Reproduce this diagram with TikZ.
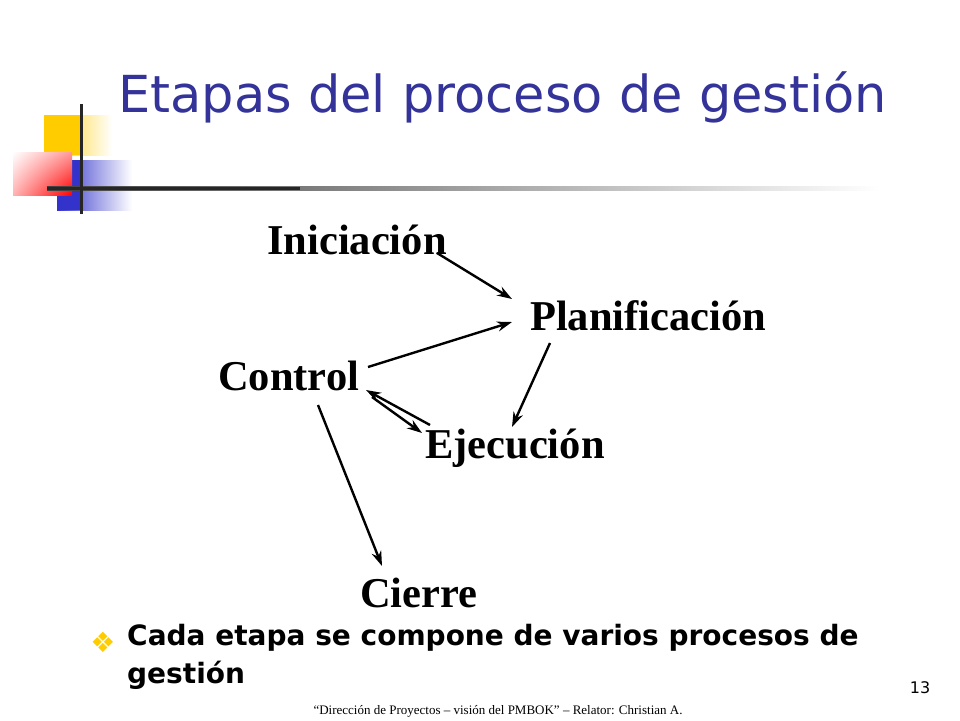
\documentclass[tikz,border=0pt]{standalone}
\usepackage{fontspec}
\setmainfont{Liberation Serif}
\newfontfamily\dvs{DejaVu Sans}
\usetikzlibrary{arrows.meta,shadings}
\definecolor{ttl}{RGB}{51,51,153}
\definecolor{yel}{RGB}{255,204,0}
\definecolor{blu}{RGB}{51,51,204}
\begin{document}
\begin{tikzpicture}[x=1pt,y=-1pt,
  lbl/.style={font=\fontsize{42.5}{46}\selectfont\bfseries,anchor=west,inner sep=0},
  arr/.style={-{Stealth[length=15pt,width=10pt]},line width=2.4pt}]
\useasboundingbox[fill=white] (0,0) rectangle (960,720);
% decoration
\shade[left color=yel,right color=white] (44,115) rectangle (112,155);
\fill[yel] (44,115) rectangle (80,155);
\shade[left color=blu,right color=white] (57,160) rectangle (132,210);
\fill[blu] (57,160) rectangle (82,210);
\shade[upper left=white,lower right=red,upper right=red!40,lower left=red!30] (13,152) rectangle (72,195);
\shade[left color=black!75,right color=white] (47,186.5) rectangle (880,190);
\fill[black!85] (47,186.5) rectangle (300,190);
\fill[black!85] (79.5,104) rectangle (82.5,214);
% title
\node[anchor=west,inner sep=0,text=ttl,font=\dvs\fontsize{51}{56}\selectfont] (title) at (118,97) {Etapas del proceso de gestión};
% labels
\node[lbl] (ini) at (267,240) {Iniciación};
\node[lbl] (pla) at (530,316) {Planificación};
\node[lbl] (con) at (218,376) {Control};
\node[lbl] (eje) at (425,448) {Ejecución};
\node[lbl] (cie) at (360,593) {Cierre};
\coordinate (a1) at (437,253); \coordinate (a2) at (512,299);
\coordinate (b1) at (368,367); \coordinate (b2) at (512,322);
\coordinate (c1) at (550,343); \coordinate (c2) at (512,427);
\coordinate (d1) at (372,397); \coordinate (d2) at (422,433);
\coordinate (e1) at (430,425); \coordinate (e2) at (366,390);
\coordinate (f1) at (318,405); \coordinate (f2) at (382,566);
\draw[arr] (a1) -- (a2);
\draw[arr] (b1) -- (b2);
\draw[arr] (c1) -- (c2);
\draw[arr] (d1) -- (d2);
\draw[arr] (e1) -- (e2);
\draw[arr] (f1) -- (f2);
% bullet
\node[text=yel,font=\dvs\fontsize{28}{28}\selectfont,inner sep=0] (bul) at (103,642) {❖};
\node[anchor=north west,inner sep=0,align=left,font=\dvs\bfseries\fontsize{28}{38}\selectfont] (txt) at (127,624) {Cada etapa se compone de varios procesos de\\gestión};
\node[font=\dvs\fontsize{16}{16}\selectfont,inner sep=0] (num) at (920,688) {13};
\node[font=\fontsize{13}{13}\selectfont,inner sep=0] (foot) at (498,711) {``Dirección de Proyectos – visión del PMBOK'' – Relator: Christian A.};
\end{tikzpicture}
\end{document}
